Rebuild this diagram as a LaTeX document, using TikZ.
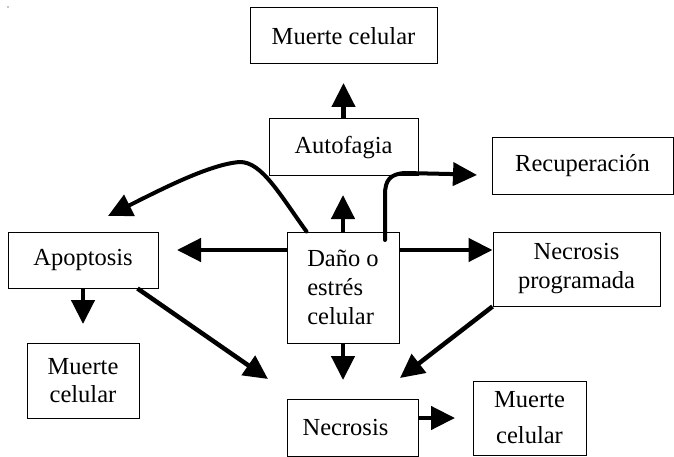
\documentclass[tikz,border=0pt]{standalone}
\usepackage{fontspec}
\setmainfont{Liberation Serif}
\usetikzlibrary{arrows.meta}
\begin{document}
\begin{tikzpicture}[x=1pt,y=-1pt,
  box/.style={draw, line width=1pt, rectangle, inner sep=0pt, align=center,
    font=\fontsize{24.5}{29}\selectfont},
  conn/.style={line width=4.5pt, -{Triangle[length=24pt,width=23pt]}},
  curv/.style={line width=4pt, line cap=round, -{Triangle[length=24pt,width=23pt]}}
  ]
\useasboundingbox (0,0) rectangle (674,457);
\fill[white] (0,0) rectangle (674,457);
\fill (8,7) circle (0.7);

% boxes
\node[box, minimum width=187pt, minimum height=56pt] (mtop) at (343.5,36) {Muerte celular};
\node[box, minimum width=149pt, minimum height=57pt] (auto) at (343.5,147.5) {Autofagia};
\node[box, minimum width=181pt, minimum height=56pt] (recu) at (582.5,166) {Recuperación};
\node[box, minimum width=150pt, minimum height=56pt] (apop) at (83,260) {Apoptosis};
\node[box, minimum width=112pt, minimum height=111pt, align=left] (dano) at (343,287.5) {Daño o\\estrés\\celular};
\node[box, minimum width=167pt, minimum height=74pt] (nprog) at (576.5,269) {Necrosis\\programada};
\node[box, minimum width=112pt, minimum height=75pt] (mleft) at (83,380.5) {Muerte\\[-1pt]celular};
\node[box, minimum width=131pt, minimum height=57pt] (necr) at (352.5,427.5) {Necrosis\hspace*{14pt}};
\node[box, minimum width=113pt, minimum height=74pt] (mright) at (529.5,418) {Muerte\\[7pt]celular};

% free ends
\coordinate (t1) at (343.5,83);
\coordinate (t2) at (343,195);
\coordinate (t3) at (177,250);
\coordinate (t5) at (83,324);
\coordinate (t6) at (268,379);
\coordinate (t7) at (343,380);
\coordinate (t8) at (400,378);
\coordinate (t9) at (455,418);
\coordinate (c1) at (108,216);
\coordinate (c2s) at (385,240);
\coordinate (c2) at (477,175);

% straight arrows
\draw[conn] (auto.north) -- (t1);
\draw[conn] (dano.north) -- (t2);
\draw[conn] (dano.west |- t3) -- (t3);
\draw[conn] (dano.east |- t3) -- (nprog.west |- t3);
\draw[conn] (apop.south) -- (t5);
\draw[conn] ([xshift=-21pt]apop.south east) -- (t6);
\draw[conn] (dano.south) -- (t7);
\draw[conn] (nprog.south west) -- (t8);
\draw[conn] (necr.east |- t9) -- (t9);

% curved arrows
\draw[curv] ([xshift=20pt]dano.north west) .. controls (280,195) and (262,162) .. (240,162)
  .. controls (210,164) and (160,190) .. (c1);
\draw[curv] (c2s) -- (385,195) .. controls (385,180) and (390,174) .. (405,173)
  -- (450,174) -- (c2);
\end{tikzpicture}
\end{document}
